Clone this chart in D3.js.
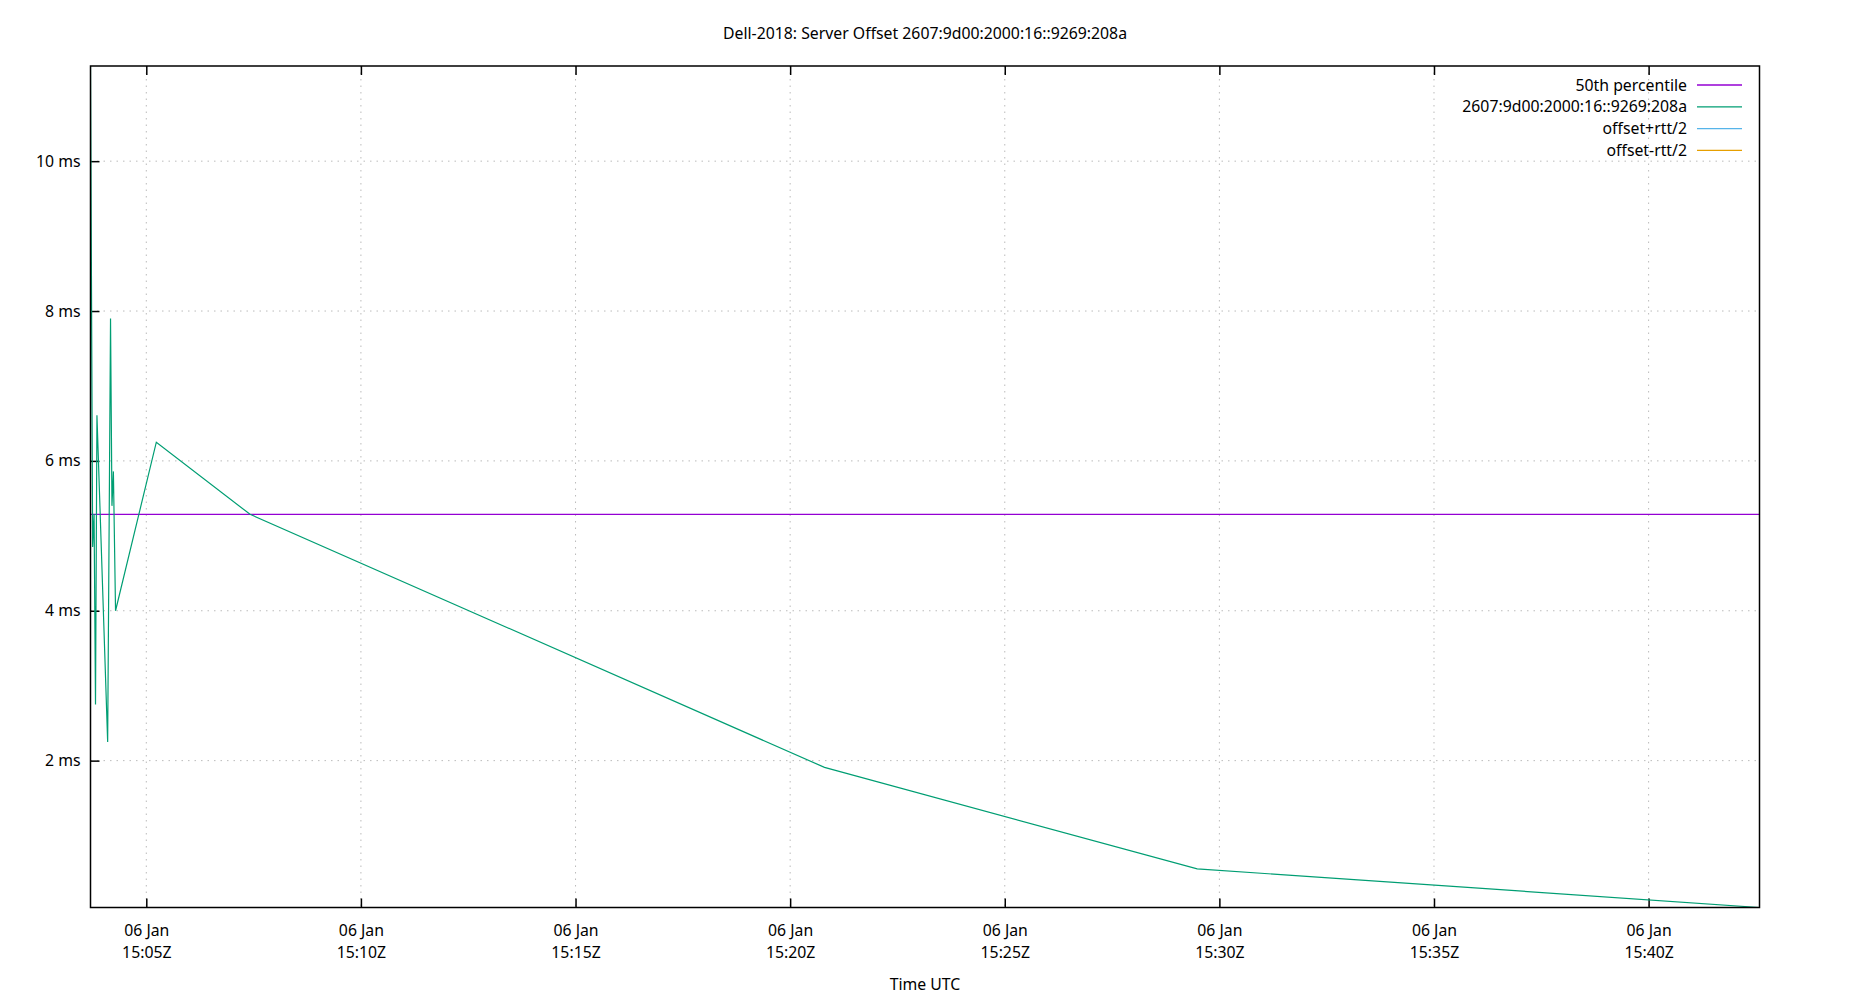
<!DOCTYPE html>
<html>
<head>
<meta charset="utf-8">
<script src="https://cdn.jsdelivr.net/npm/d3@7"></script>
<style>
	body { margin: 0; background: #fff; }
	text { font-family: "Noto Sans", "Open Sans", sans-serif; fill: #000; }
</style>
</head>
<body>
<div id="chart"></div>
<script>

// offset samples
const times = [
	"2023-01-06T15:03:42Z", "2023-01-06T15:03:45Z", "2023-01-06T15:03:47Z",
	"2023-01-06T15:03:49Z", "2023-01-06T15:03:51Z", "2023-01-06T15:04:06Z",
	"2023-01-06T15:04:10Z", "2023-01-06T15:04:12Z", "2023-01-06T15:04:14Z",
	"2023-01-06T15:04:17Z", "2023-01-06T15:05:14Z", "2023-01-06T15:07:25Z",
	"2023-01-06T15:20:48Z", "2023-01-06T15:29:29Z", "2023-01-06T15:42:35Z"
];
const offsets = [ 11.27, 4.85, 5.29, 2.75, 6.61, 2.25, 7.90, 5.40, 5.86, 4.00, 6.25, 5.287, 1.91, 0.556, 0.04 ];
const rtt_plus = [];	// offset+rtt/2, nothing in view
const rtt_minus = [];	// offset-rtt/2, nothing in view
const median = 5.287;

const y_ticks = [ 2, 4, 6, 8, 10 ];
const x_ticks = [ "15:05", "15:10", "15:15", "15:20", "15:25", "15:30", "15:35", "15:40" ];

const title = "Dell-2018: Server Offset 2607:9d00:2000:16::9269:208a";
const legend_names = [ "50th percentile", "2607:9d00:2000:16::9269:208a", "offset+rtt/2", "offset-rtt/2" ];
const legend_colors = [ "#9400d3", "#009e73", "#56b4e9", "#e69f00" ];

///////////////////////////////////////////////////////////////////////

const width = 1850, height = 1000;
const p_left = 90.5, p_right = 1759.5, p_top = 66, p_bottom = 907.5;
const font_size = 15.8;

const svg = d3.select( "#chart" )
	.append( "svg" )
	.attr( "width", width )
	.attr( "height", height );

const dates = times.map( d => new Date( d ) );
const pts = dates.map( ( d, i ) => [ d, offsets[ i ] ] );

const X = d3.scaleUtc()
	.domain( d3.extent( dates ) )
	.range( [ p_left, p_right ] );

const Y = d3.scaleLinear()
	.domain( d3.extent( offsets ) )
	.range( [ p_bottom, p_top ] );

const tick_dates = x_ticks.map( t => new Date( "2023-01-06T" + t + ":00Z" ) );

// grid
svg.append( "g" )
	.selectAll( "line" )
	.data( tick_dates )
	.join( "line" )
		.attr( "x1", d => X( d ) ).attr( "x2", d => X( d ) )
		.attr( "y1", p_top ).attr( "y2", p_bottom )
		.attr( "stroke", "#bbb" )
		.attr( "stroke-width", 1 )
		.attr( "stroke-dasharray", "1.5,5" );

svg.append( "g" )
	.selectAll( "line" )
	.data( y_ticks )
	.join( "line" )
		.attr( "x1", p_left ).attr( "x2", p_right )
		.attr( "y1", d => Y( d ) ).attr( "y2", d => Y( d ) )
		.attr( "stroke", "#bbb" )
		.attr( "stroke-width", 1 )
		.attr( "stroke-dasharray", "1.5,5" );

// axes, ticks pointing inward
const fmt_day = d3.utcFormat( "%d %b" );
const fmt_time = d3.utcFormat( "%H:%MZ" );

const x_axis = svg.append( "g" )
	.attr( "transform", "translate(0," + p_bottom + ")" )
	.call( d3.axisBottom( X ).tickValues( tick_dates ).tickSizeInner( -9 ).tickSizeOuter( 0 ).tickFormat( "" ) );

x_axis.selectAll( ".tick" ).append( "text" )
	.attr( "text-anchor", "middle" )
	.attr( "font-size", font_size )
	.selectAll( "tspan" )
	.data( d => [ fmt_day( d ), fmt_time( d ) ] )
	.join( "tspan" )
		.attr( "x", 0 )
		.attr( "y", ( d, i ) => 28.5 + i * 21.7 )
		.text( d => d );

svg.append( "g" )
	.attr( "transform", "translate(0," + p_top + ")" )
	.call( d3.axisTop( X ).tickValues( tick_dates ).tickSizeInner( -9 ).tickSizeOuter( 0 ).tickFormat( "" ) );

svg.append( "g" )
	.attr( "transform", "translate(" + p_left + ",0)" )
	.call( d3.axisLeft( Y ).tickValues( y_ticks ).tickSizeInner( -9 ).tickSizeOuter( 0 ).tickPadding( 10 ).tickFormat( d => d + " ms" ) )
	.selectAll( "text" )
		.attr( "font-size", font_size );

svg.selectAll( ".domain" ).remove();
svg.selectAll( ".tick line" ).attr( "stroke", "#000" ).attr( "stroke-width", 1.5 );

// data
svg.append( "defs" ).append( "clipPath" ).attr( "id", "clip" )
	.append( "rect" )
		.attr( "x", p_left ).attr( "y", p_top )
		.attr( "width", p_right - p_left ).attr( "height", p_bottom - p_top );

const plot = svg.append( "g" ).attr( "clip-path", "url(#clip)" );

plot.append( "line" )
	.attr( "x1", p_left ).attr( "x2", p_right )
	.attr( "y1", Y( median ) ).attr( "y2", Y( median ) )
	.attr( "stroke", legend_colors[ 0 ] )
	.attr( "stroke-width", 1.3 );

const line = d3.line()
	.x( d => X( d[ 0 ] ) )
	.y( d => Y( d[ 1 ] ) );

plot.append( "path" )
	.datum( pts )
	.attr( "d", line )
	.attr( "fill", "none" )
	.attr( "stroke", legend_colors[ 1 ] )
	.attr( "stroke-width", 1.2 );

[ rtt_plus, rtt_minus ].forEach( ( s, i ) => {
	if( s.length )	{
		plot.append( "path" )
			.datum( s )
			.attr( "d", line )
			.attr( "fill", "none" )
			.attr( "stroke", legend_colors[ i + 2 ] )
			.attr( "stroke-width", 1.2 );
	}
} );

// frame
svg.append( "rect" )
	.attr( "x", p_left ).attr( "y", p_top )
	.attr( "width", p_right - p_left ).attr( "height", p_bottom - p_top )
	.attr( "fill", "none" )
	.attr( "stroke", "#000" )
	.attr( "stroke-width", 1.5 );

// legend
const legend = svg.append( "g" )
	.selectAll( "g" )
	.data( legend_names )
	.join( "g" )
		.attr( "transform", ( d, i ) => "translate(0," + ( 85 + i * 21.8 ) + ")" );

legend.append( "text" )
	.attr( "x", 1687 )
	.attr( "dy", "0.35em" )
	.attr( "text-anchor", "end" )
	.attr( "font-size", font_size )
	.text( d => d );

legend.append( "line" )
	.attr( "x1", 1697 ).attr( "x2", 1742 )
	.attr( "y1", 0 ).attr( "y2", 0 )
	.attr( "stroke", ( d, i ) => legend_colors[ i ] )
	.attr( "stroke-width", 1.3 );

// titles
svg.append( "text" )
	.attr( "x", width / 2 )
	.attr( "y", 33 )
	.attr( "dy", "0.35em" )
	.attr( "text-anchor", "middle" )
	.attr( "font-size", font_size )
	.text( title );

svg.append( "text" )
	.attr( "x", ( p_left + p_right ) / 2 )
	.attr( "y", 984 )
	.attr( "dy", "0.35em" )
	.attr( "text-anchor", "middle" )
	.attr( "font-size", font_size )
	.text( "Time UTC" );

</script>
</body>
</html>
